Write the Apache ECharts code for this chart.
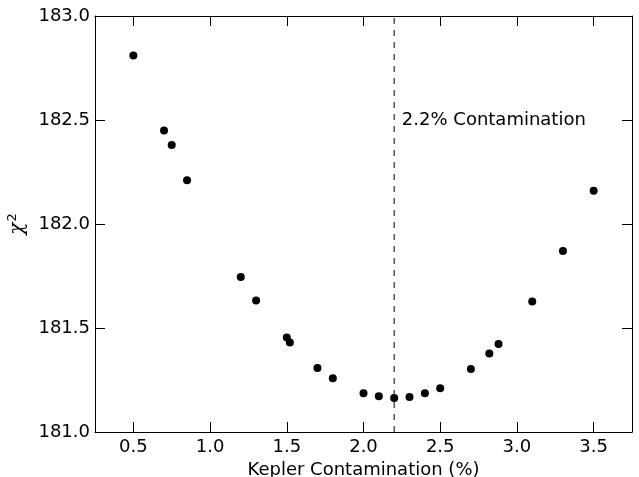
<!DOCTYPE html>
<html>
<head>
<meta charset="utf-8">
<script src="https://cdn.jsdelivr.net/npm/echarts@6/dist/echarts.min.js"></script>
<style>
  html, body { margin: 0; padding: 0; background: #fff; }
  #chart { width: 639px; height: 477px; }
</style>
</head>
<body>
<div id="chart"></div>
<script>
  // values
  const contamination = [0.5, 0.7, 0.75, 0.85, 1.2, 1.3, 1.5, 1.52, 1.7, 1.8, 2.0, 2.1, 2.2, 2.3, 2.4, 2.5, 2.7, 2.82, 2.88, 3.1, 3.3, 3.5]
  const chiSquared = [182.81, 182.45, 182.38, 182.21, 181.745, 181.632, 181.454, 181.43, 181.308, 181.258, 181.186, 181.172, 181.163, 181.168, 181.186, 181.21, 181.303, 181.378, 181.423, 181.628, 181.87, 182.16]
  const xTicks = [0.5, 1.0, 1.5, 2.0, 2.5, 3.0, 3.5]
  const bestFit = 2.2
  const annotation = '2.2% Contamination'

  const font = 'DejaVu Sans'
  const fontSize = 18

  const chart = echarts.init(document.getElementById('chart'))

  const xBase = {
    type: 'value',
    min: 0.25,
    max: 3.75,
    splitLine: { show: false },
    axisLine: { show: true, onZero: false, lineStyle: { color: '#000', width: 1 } },
    axisTick: { show: true, inside: true, length: 10, customValues: xTicks, lineStyle: { color: '#000', width: 1 } }
  }
  const yBase = {
    type: 'value',
    min: 181,
    max: 183,
    interval: 0.5,
    splitLine: { show: false },
    axisLine: { show: true, onZero: false, lineStyle: { color: '#000', width: 1 } },
    axisTick: { show: true, inside: true, length: 10, lineStyle: { color: '#000', width: 1 } }
  }

  chart.setOption({
    animation: false,
    backgroundColor: '#fff',
    grid: { left: 95, right: 7, top: 16, bottom: 45, outerBoundsMode: 'none', containLabel: false },
    xAxis: [
      Object.assign({}, xBase, {
        position: 'bottom',
        name: 'Kepler Contamination (%)',
        nameLocation: 'middle',
        nameGap: 26,
        nameTextStyle: { fontFamily: font, fontSize: fontSize, color: '#000' },
        axisLabel: {
          customValues: xTicks,
          margin: 6,
          fontFamily: font,
          fontSize: fontSize,
          color: '#000',
          formatter: v => v.toFixed(1)
        }
      }),
      Object.assign({}, xBase, { position: 'top', axisLabel: { show: false } })
    ],
    yAxis: [
      Object.assign({}, yBase, {
        position: 'left',
        name: '{i|χ}{s|2}',
        nameLocation: 'middle',
        nameGap: 62,
        nameTextStyle: {
          rich: {
            i: { fontFamily: 'DejaVu Serif', fontStyle: 'italic', fontSize: 20, color: '#000' },
            s: { fontFamily: font, fontSize: 13, color: '#000', verticalAlign: 'top', padding: [0, 0, 9, 1] }
          }
        },
        axisLabel: {
          margin: 5,
          fontFamily: font,
          fontSize: fontSize,
          color: '#000',
          formatter: v => v.toFixed(1)
        }
      }),
      Object.assign({}, yBase, { position: 'right', axisLabel: { show: false } })
    ],
    series: [
      {
        type: 'line',
        data: [[bestFit, 181], [bestFit, 183]],
        symbol: 'none',
        silent: true,
        lineStyle: { color: '#000', width: 1, opacity: 1, type: [6, 6] }
      },
      {
        type: 'scatter',
        data: contamination.map((x, i) => [x, chiSquared[i]]),
        symbolSize: 8,
        itemStyle: { color: '#000', opacity: 1 }
      },
      {
        type: 'scatter',
        data: [[bestFit + 0.05, 182.5]],
        symbolSize: 0,
        silent: true,
        itemStyle: { opacity: 1 },
        label: {
          show: true,
          position: 'right',
          distance: 0,
          formatter: annotation,
          fontFamily: font,
          fontSize: fontSize,
          color: '#000'
        }
      }
    ]
  })
</script>
</body>
</html>
